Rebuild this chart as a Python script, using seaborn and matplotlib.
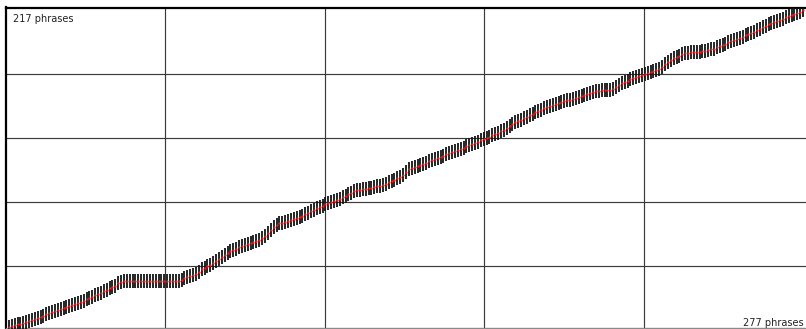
import numpy as np
import pandas as pd
import matplotlib
matplotlib.use("Agg")
import matplotlib.pyplot as plt
import seaborn as sns

# --- data -------------------------------------------------------------------
n_source = 277   # phrases along x
n_target = 217   # phrases along y

aligned_y = [
    2.1, 2.6, 3.2, 3.7, 4.3, 4.8, 5.3, 5.9, 6.4, 7.2,
    8.0, 8.8, 9.7, 10.5, 11.3, 12.1, 12.8, 13.6, 14.3, 15.0,
    15.8, 16.5, 17.1, 17.7, 18.4, 19.0, 19.8, 20.7, 21.6, 22.5,
    23.4, 24.3, 25.2, 26.2, 27.2, 28.2, 29.1, 30.1, 32.0, 32.8,
    33.0, 33.0, 33.0, 33.0, 33.0, 33.0, 33.0, 33.0, 33.0, 33.0,
    33.0, 33.0, 33.0, 33.0, 33.0, 33.0, 33.0, 33.0, 33.0, 33.3,
    34.1, 35.1, 35.7, 36.3, 37.0, 37.9, 39.5, 41.1, 42.2, 43.2,
    44.2, 45.4, 46.8, 48.2, 49.6, 50.9, 52.3, 53.4, 54.3, 55.2,
    56.2, 57.1, 57.8, 58.5, 59.2, 59.7, 60.2, 60.8, 62.4, 64.1,
    65.8, 67.7, 69.6, 71.5, 72.3, 72.7, 73.2, 73.7, 74.4, 75.2,
    76.0, 76.9, 77.7, 78.7, 79.7, 80.6, 81.6, 82.6, 83.5, 84.4,
    85.2, 86.0, 86.8, 87.6, 88.4, 89.2, 90.2, 91.2, 92.1, 93.1,
    94.1, 94.7, 95.1, 95.5, 95.9, 96.4, 96.7, 97.1, 97.5, 97.9,
    98.6, 99.4, 100.2, 101.2, 102.1, 103.1, 104.0, 105.3, 107.2, 109.2,
    109.9, 110.7, 111.4, 112.2, 112.9, 113.7, 114.5, 115.3, 116.1, 116.9,
    117.7, 118.4, 119.2, 120.0, 120.8, 121.5, 122.3, 123.1, 123.9, 124.6,
    125.4, 126.2, 127.1, 127.9, 128.8, 129.6, 130.4, 131.3, 132.2, 133.0,
    133.8, 134.9, 136.1, 137.3, 138.5, 139.7, 140.9, 141.9, 142.8, 143.8,
    144.8, 145.7, 146.7, 147.7, 148.6, 149.6, 150.6, 151.6, 152.4, 153.0,
    153.6, 154.2, 154.8, 155.4, 155.9, 156.5, 157.0, 157.6, 158.2, 158.8,
    159.5, 160.2, 161.0, 161.7, 162.3, 162.5, 162.7, 162.9, 163.1, 163.2,
    163.5, 164.7, 166.2, 167.8, 168.7, 169.4, 170.1, 170.9, 171.6, 172.5,
    173.3, 174.1, 174.8, 175.4, 176.0, 176.6, 177.3, 178.9, 180.6, 182.2,
    183.4, 184.4, 185.4, 186.3, 187.3, 188.3, 188.4, 188.5, 188.5, 188.6,
    189.0, 189.3, 189.7, 190.1, 190.5, 191.1, 191.9, 192.8, 193.6, 194.5,
    195.3, 196.1, 197.0, 197.8, 198.6, 199.3, 200.1, 200.9, 201.7, 202.6,
    203.6, 204.6, 205.5, 206.5, 207.5, 208.3, 209.1, 209.9, 210.7, 211.5,
    212.3, 213.0, 213.8, 214.6, 215.4, 216.1, 217.1,
]
source_idx = list(range(1, n_source + 1))

top_label = f"{n_target} phrases"
bottom_label = f"{n_source} phrases"

df = pd.DataFrame({"source": source_idx, "target": aligned_y})

# --- figure -----------------------------------------------------------------
sns.set_style("white")
plt.rcParams["font.family"] = ["DejaVu Sans"]

W, H = 806, 329
fig = plt.figure(figsize=(W / 100, H / 100), dpi=100)
ax = fig.add_axes([6.0 / W, 1.0 / H, (W - 6.0) / W, (328 - 7.5) / H])

# alignment band (vertical bars) and centre dots
sns.scatterplot(data=df, x="source", y="target", marker="|", s=110,
                color="#141414", linewidth=1.3, ax=ax, legend=False, zorder=3)
sns.scatterplot(data=df, x="source", y="target", marker="o", s=2.6,
                color="#ff1a1a", linewidth=0, ax=ax, legend=False, zorder=4)

ax.set_xlim(0, 278)
ax.set_ylim(1.3, 219.0)
ax.set_xticks([n_source / 5 * k for k in range(1, 5)])
ax.set_yticks([n_target / 5 * k for k in range(1, 5)])
ax.grid(True, color="#3a3a3a", linewidth=0.85)
ax.set_axisbelow(True)
ax.tick_params(left=False, bottom=False, labelleft=False, labelbottom=False)
ax.set_xlabel("")
ax.set_ylabel("")

for side in ("left", "top"):
    ax.spines[side].set_visible(True)
    ax.spines[side].set_color("#000000")
    ax.spines[side].set_linewidth(1.6)
ax.spines["bottom"].set_color("#8a8a8a")
ax.spines["bottom"].set_linewidth(1.0)
ax.spines["right"].set_visible(False)

fig.text(13 / W, 1 - 21.5 / H, top_label, fontsize=7.0, color="#222222",
         ha="left", va="baseline")
fig.text(804 / W, 2.6 / H, bottom_label, fontsize=7.0, color="#222222",
         ha="right", va="baseline")

fig.savefig("out.png", dpi=100)
